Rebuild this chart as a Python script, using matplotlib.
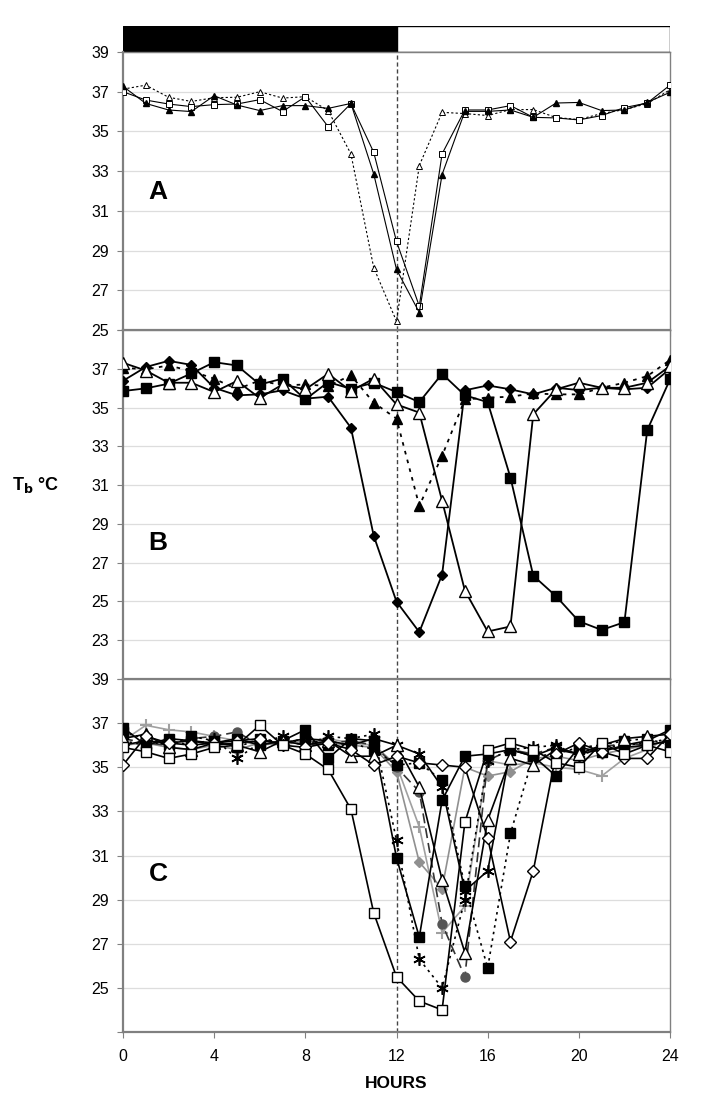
import matplotlib
matplotlib.use("Agg")
import matplotlib.pyplot as plt
import numpy as np

plt.rcParams['font.family'] = ['Liberation Sans', 'DejaVu Sans']

hours = list(range(25))
xticks = [0, 4, 8, 12, 16, 20, 24]

# Panel A
a_filled_tri = [37.27, 36.41, 36.08, 36.0, 36.8, 36.33, 36.05, 36.3, 36.3, 36.16, 36.41, 32.86, 28.05,
                25.88, 32.83, 36.01, 36.01, 36.08, 35.71, 36.43, 36.46, 36.05, 36.08, 36.46, 36.97]
a_open_sq = [37.0, 36.58, 36.38, 36.25, 36.35, 36.38, 36.6, 36.0, 36.75, 35.24, 36.4, 33.95, 29.46,
             26.2, 33.87, 36.08, 36.08, 36.3, 35.71, 35.68, 35.58, 35.8, 36.2, 36.43, 37.33]
a_open_tri = [37.13, 37.33, 36.72, 36.51, 36.7, 36.72, 37.0, 36.68, 36.75, 36.05, 33.87, 28.14, 25.44,
              33.28, 35.96, 35.9, 35.8, 36.1, 36.1, 35.7, 35.6, 35.9, 36.1, 36.4, 37.1]

# Panel B
b_diamond = [36.38, 37.09, 37.41, 37.2, 36.02, 35.63, 35.68, 35.89, 35.46, 35.56, 33.96, 28.39, 24.99,
             23.42, 26.38, 35.89, 36.14, 35.94, 35.68, 36.02, 35.9, 36.02, 35.94, 36.02, 37.0]
b_filled_sq = [35.85, 35.99, 36.23, 36.76, 37.34, 37.17, 36.19, 36.49, 35.42, 36.31, 35.97, 36.28, 35.8,
               35.28, 36.74, 35.63, 35.28, 31.39, 26.33, 25.27, 23.98, 23.53, 23.93, 33.83, 36.45]
b_open_tri = [37.31, 36.91, 36.28, 36.28, 35.8, 36.37, 35.49, 36.19, 35.94, 36.74, 35.85, 36.49, 35.16,
              34.74, 30.19, 25.56, 23.45, 23.71, 34.65, 35.94, 36.28, 36.02, 36.02, 36.28, 37.14]
b_filled_tri = [37.05, 36.97, 37.17, 36.88, 36.49, 35.94, 36.4, 36.14, 36.19, 36.11, 36.66, 35.25, 34.43,
                29.93, 32.51, 35.42, 35.51, 35.56, 35.73, 35.68, 35.68, 36.02, 36.28, 36.62, 37.45]

# Panel C
c_open_sq = [35.9, 35.7, 35.4, 35.6, 35.9, 36.0, 36.9, 36.0, 35.6, 34.9, 33.1, 28.4, 25.5, 24.4, 24.0,
             32.5, 35.8, 36.1, 35.8, 35.2, 35.0, 36.1, 35.6, 36.0, 35.7]
c_open_dia = [35.1, 36.4, 36.1, 36.0, 36.1, 36.2, 36.3, 36.0, 35.9, 36.1, 35.8, 35.1, 35.5, 35.2, 35.1,
              35.0, 31.8, 27.1, 30.3, 35.6, 36.1, 35.7, 35.4, 35.4, 36.5]
c_filled_sq = [36.8, 36.0, 36.3, 36.2, 36.1, 36.3, 36.0, 36.2, 36.7, 35.4, 36.3, 36.2, 30.9, 27.3, 33.5,
               35.5, 35.6, 35.8, 35.5, 34.6, 35.9, 35.7, 36.0, 36.2, 36.7]
c_star_dot = [36.2, 36.0, 36.2, 36.0, 36.3, 35.4, 36.1, 36.4, 36.0, 36.4, 36.3, 36.5, 31.7, 26.3, 25.0,
              29.0, 35.3, 35.8, 35.9, 36.0, 35.5, 35.9, 36.0, 36.1, 36.3]
c_filled_sq_dot = [36.6, 36.3, 36.0, 36.4, 36.2, 35.9, 36.3, 36.1, 36.3, 36.0, 36.1, 35.8, 35.1, 35.2,
                   34.4, 29.6, 25.9, 32.0, 35.5, 35.6, 35.9, 36.0, 36.2, 36.3, 36.0]
c_circle = [36.3, 36.1, 36.0, 36.3, 36.4, 36.6, 36.0, 36.2, 36.0, 36.1, 36.2, 36.0, 35.0, 33.9, 27.9,
            25.5, 35.3, 35.8, 35.6, 35.9, 35.6, 35.9, 36.1, 36.0, 36.2]
c_gray_dia = [36.0, 36.1, 35.9, 35.8, 36.0, 35.8, 36.1, 36.0, 36.2, 36.1, 36.0, 35.9, 34.8, 30.7, 29.5,
              35.0, 34.6, 34.8, 35.4, 35.5, 35.3, 35.6, 35.8, 36.0, 36.2]
c_gray_plus = [36.2, 36.9, 36.7, 36.6, 36.4, 36.2, 36.0, 36.1, 36.2, 36.3, 36.1, 36.0, 35.1, 32.3, 27.5,
               28.7, 35.3, 35.1, 35.2, 35.0, 34.9, 34.6, 35.4, 35.8, 36.4]
c_open_tri = [36.3, 36.5, 35.9, 35.8, 36.1, 36.0, 35.7, 36.2, 36.0, 36.2, 35.5, 35.5, 36.0, 34.1, 29.9,
              26.6, 32.6, 35.4, 35.1, 35.8, 35.6, 36.0, 36.3, 36.4, 36.5]
c_star_solid = [36.0, 36.2, 36.1, 36.2, 36.0, 36.1, 36.2, 36.1, 36.3, 36.2, 36.0, 36.3, 36.0, 35.6, 34.1,
                29.4, 30.3, 35.8, 35.5, 35.9, 35.6, 35.8, 35.9, 36.0, 36.2]

W, H = 702, 1107
fig = plt.figure(figsize=(W / 100, H / 100), dpi=100)

def fr(x0, y0, x1, y1):
    return [x0 / W, 1 - y1 / H, (x1 - x0) / W, (y1 - y0) / H]

XL, XR = 123, 670
axBar = fig.add_axes(fr(XL, 26, XR, 52))
axA = fig.add_axes(fr(XL, 52, XR, 330))
axB = fig.add_axes(fr(XL, 330, XR, 679))
axC = fig.add_axes(fr(XL, 679, XR, 1032))

# light/dark bar
axBar.barh([0], [12], left=0, height=1, color='black', edgecolor='black', lw=1)
axBar.barh([0], [12], left=12, height=1, color='white', edgecolor='black', lw=1)
axBar.set_xlim(0, 24)
axBar.set_ylim(-0.5, 0.5)
axBar.axis('off')

spine_col = '#808080'
grid_col = '#dddddd'

def style(ax, ylo, yhi, labels):
    ax.set_xlim(0, 24)
    ax.set_ylim(ylo, yhi)
    ax.set_yticks(list(range(ylo, yhi + 1, 2)) if False else [v for v in range(ylo, yhi + 1) if v % 2 == 1])
    ax.set_yticklabels([str(v) if v in labels else '' for v in ax.get_yticks().astype(int)])
    ax.set_xticks(xticks)
    ax.set_xticklabels([])
    for v in ax.get_yticks():
        ax.axhline(v, color=grid_col, lw=0.9, zorder=0)
    for s in ax.spines.values():
        s.set_color(spine_col)
        s.set_linewidth(1.0)
    ax.spines['left'].set_linewidth(1.6)
    ax.spines['bottom'].set_linewidth(1.6)
    ax.tick_params(axis='y', length=4, color=spine_col, labelsize=11.5, pad=6)
    ax.tick_params(axis='x', length=4, color=spine_col, direction='out')
    ax.axvline(12, color='#444444', lw=1.0, ls=(0, (3, 2)), zorder=1)

style(axA, 25, 39, [25, 27, 29, 31, 33, 35, 37, 39])
style(axB, 21, 39, [23, 25, 27, 29, 31, 33, 35, 37])
style(axC, 23, 39, [25, 27, 29, 31, 33, 35, 37, 39])
axC.set_xticklabels([str(v) for v in xticks], fontsize=11.5)
axC.tick_params(axis='x', pad=8)

# Panel A
kwA = dict(color='black', lw=0.8, ms=5, zorder=3)
axA.plot(hours, a_open_tri, ls=(0, (2, 2)), marker='^', mfc='white', mec='black', mew=0.7, **kwA)
axA.plot(hours, a_open_sq, ls='-', marker='s', mfc='white', mec='black', mew=0.7, **kwA)
axA.plot(hours, a_filled_tri, ls='-', marker='^', mfc='black', mec='black', **kwA)

# Panel B
kwB = dict(color='black', lw=1.3, zorder=3)
axB.plot(hours, b_filled_tri, ls=(0, (2, 3)), marker='^', ms=7, mfc='black', mec='black', **kwB)
axB.plot(hours, b_diamond, ls='-', marker='D', ms=5, mfc='black', mec='black', **kwB)
axB.plot(hours, b_filled_sq, ls='-', marker='s', ms=6.5, mfc='black', mec='black', **kwB)
axB.plot(hours, b_open_tri, ls='-', marker='^', ms=8, mfc='white', mec='black', mew=1.0, **kwB)

# Panel C
star = (6, 2, 0)
kwC = dict(lw=1.2, zorder=3)
axC.plot(hours, c_gray_plus, ls='-', color='#a0a0a0', marker='+', ms=8, mec='#a0a0a0', mew=1.5, **kwC)
axC.plot(hours, c_gray_dia, ls='-', color='#909090', marker='D', ms=5, mfc='#909090', mec='#909090', **kwC)
axC.plot(hours, c_circle, ls=(0, (6, 3)), color='#333333', marker='o', ms=6.5, mfc='#555555', mec='#555555', **kwC)
axC.plot(hours, c_star_dot, ls=(0, (1.5, 2.5)), color='black', marker=star, ms=9, mec='black', mew=1.2, **kwC)
axC.plot(hours, c_filled_sq_dot, ls=(0, (1.5, 2.5)), color='black', marker='s', ms=6.5, mfc='black', mec='black', **kwC)
axC.plot(hours, c_star_solid, ls='-', color='black', marker=star, ms=9, mec='black', mew=1.2, **kwC)
axC.plot(hours, c_filled_sq, ls='-', color='black', marker='s', ms=6.5, mfc='black', mec='black', **kwC)
axC.plot(hours, c_open_tri, ls='-', color='black', marker='^', ms=8, mfc='white', mec='black', mew=1.0, **kwC)
axC.plot(hours, c_open_dia, ls='-', color='black', marker='D', ms=6, mfc='white', mec='black', mew=1.0, **kwC)
axC.plot(hours, c_open_sq, ls='-', color='black', marker='s', ms=7, mfc='white', mec='black', mew=1.0, **kwC)

# Panel letters
for ax, lab, yv in [(axA, 'A', 192), (axB, 'B', 543), (axC, 'C', 874)]:
    fig.text(158 / W, 1 - yv / H, lab, fontsize=19, fontweight='bold', ha='center', va='center')

fig.text(36 / W, 1 - 485 / H, r'T$_\mathbf{b}$ °C', fontsize=13, fontweight='bold', ha='center', va='center')
fig.text((XL + XR) / 2 / W, 1 - 1083 / H, 'HOURS', fontsize=12.5, fontweight='bold', ha='center', va='center')

fig.savefig('out.png', dpi=100)
